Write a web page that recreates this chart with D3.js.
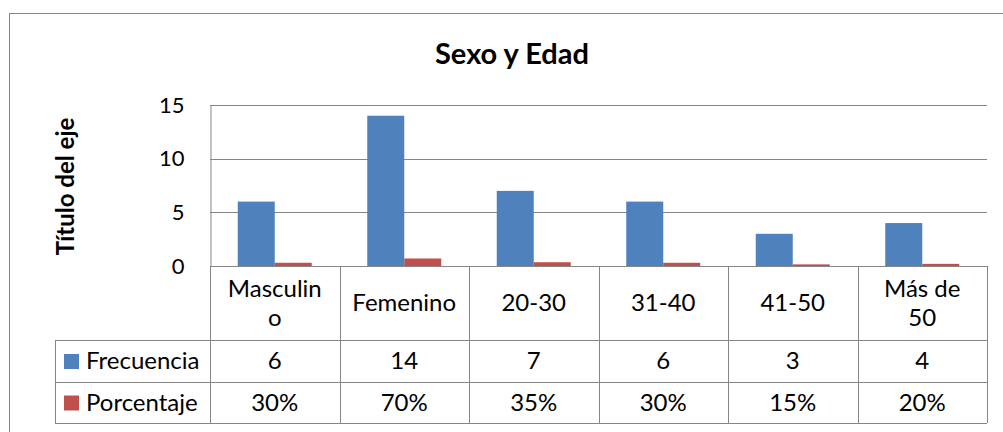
<!DOCTYPE html>
<html>
<head>
<meta charset="utf-8">
<script src="https://cdn.jsdelivr.net/npm/d3@7"></script>
<style>
  body { margin: 0; background: #fff; }
  text { font-family: Lato, "Open Sans", sans-serif; fill: #000; }
</style>
</head>
<body>
<div id="chart"></div>
<script>
// data
const categories = ['Masculino', 'Femenino', '20-30', '31-40', '41-50', 'Más de 50'];
const categoryLabels = [['Masculin', 'o'], ['Femenino'], ['20-30'], ['31-40'], ['41-50'], ['Más de', '50']];
const seriesNames = ['Frecuencia', 'Porcentaje'];
const frecuencia = [6, 14, 7, 6, 3, 4];
const porcentaje = [0.30, 0.70, 0.35, 0.30, 0.15, 0.20];
const porcentajeLabels = ['30%', '70%', '35%', '30%', '15%', '20%'];
const yTicks = [0, 5, 10, 15];
const colours = ['#4F81BD', '#C0504D'];

const width = 1003;
const height = 432;
const grid = '#868686';

const plot = { left: 210, right: 987, top: 105, bottom: 266 };
const rows = [266, 340, 382, 423];
const tableLeft = 55;

const svg = d3.select('#chart').append('svg')
  .attr('width', width)
  .attr('height', height)
  .style('display', 'block');

// outer chart border (right and bottom run off the picture)
svg.append('rect')
  .attr('x', 9.5).attr('y', 13.5)
  .attr('width', width).attr('height', height)
  .attr('fill', '#fff')
  .attr('stroke', grid);

const x = d3.scaleBand()
  .domain(categories)
  .range([plot.left, plot.right]);

const xs = d3.scaleBand()
  .domain(seriesNames)
  .range([0, x.bandwidth()])
  .paddingOuter(0.75);

const y = d3.scaleLinear()
  .domain([0, 15])
  .range([plot.bottom, plot.top]);

// gridlines
svg.append('g').selectAll('line')
  .data(yTicks)
  .enter().append('line')
  .attr('x1', plot.left).attr('x2', plot.right)
  .attr('y1', d => Math.round(y(d)) + 0.5)
  .attr('y2', d => Math.round(y(d)) + 0.5)
  .attr('stroke', grid);

// y axis
const yAxis = svg.append('g')
  .attr('transform', `translate(${plot.left + 0.5},0)`)
  .call(d3.axisLeft(y).tickValues(yTicks).tickSize(0).tickPadding(26));
yAxis.select('.domain').attr('stroke', grid);
yAxis.selectAll('text')
  .style('font-family', 'Lato, sans-serif')
  .style('font-size', '22px')
  .attr('fill', '#000');

// bars
const series = [frecuencia, porcentaje];
series.forEach((vals, si) => {
  svg.append('g').selectAll('rect')
    .data(vals)
    .enter().append('rect')
    .attr('x', (d, i) => x(categories[i]) + xs(seriesNames[si]))
    .attr('width', xs.bandwidth())
    .attr('y', d => y(d))
    .attr('height', d => y(0) - y(d))
    .attr('fill', colours[si]);
});

// data table lines
const table = svg.append('g').attr('stroke', grid).attr('fill', 'none');
table.append('line')
  .attr('x1', plot.left).attr('x2', plot.right)
  .attr('y1', rows[0] + 0.5).attr('y2', rows[0] + 0.5);
rows.slice(1).forEach(r => {
  table.append('line')
    .attr('x1', tableLeft).attr('x2', plot.right)
    .attr('y1', r + 0.5).attr('y2', r + 0.5);
});
const colEdges = categories.map(c => x(c)).concat([plot.right]);
colEdges.forEach(cx => {
  table.append('line')
    .attr('x1', Math.round(cx) + 0.5).attr('x2', Math.round(cx) + 0.5)
    .attr('y1', rows[0]).attr('y2', rows[3]);
});
table.append('line')
  .attr('x1', tableLeft + 0.5).attr('x2', tableLeft + 0.5)
  .attr('y1', rows[1]).attr('y2', rows[3]);

const fs = 24;
const tableText = svg.append('g')
  .style('font-size', fs + 'px')
  .attr('text-anchor', 'middle');

// category header row
categoryLabels.forEach((lines, i) => {
  const cx = x(categories[i]) + x.bandwidth() / 2;
  const mid = (rows[0] + rows[1]) / 2;
  const lh = 29;
  const t = tableText.append('text')
    .attr('x', cx)
    .attr('y', mid - (lines.length - 1) * lh / 2);
  lines.forEach((ln, j) => {
    t.append('tspan')
      .attr('x', cx)
      .attr('dy', j === 0 ? '0.35em' : lh)
      .text(ln);
  });
});

// value rows
const rowValues = [frecuencia.map(String), porcentajeLabels];
rowValues.forEach((vals, si) => {
  const mid = (rows[si + 1] + rows[si + 2]) / 2;
  tableText.selectAll(null)
    .data(vals)
    .enter().append('text')
    .attr('x', (d, i) => x(categories[i]) + x.bandwidth() / 2)
    .attr('y', mid)
    .attr('dy', '0.35em')
    .text(d => d);

  // legend key + series name
  svg.append('rect')
    .attr('x', 64).attr('y', mid - 7)
    .attr('width', 15).attr('height', 15)
    .attr('fill', colours[si]);
  svg.append('text')
    .attr('x', 86).attr('y', mid)
    .attr('dy', '0.35em')
    .style('font-size', fs + 'px')
    .text(seriesNames[si]);
});

// title
svg.append('text')
  .attr('x', 512).attr('y', 64)
  .attr('text-anchor', 'middle')
  .style('font-size', '29px')
  .style('font-weight', 'bold')
  .text('Sexo y Edad');

// y axis title
svg.append('text')
  .attr('transform', `translate(74,${(plot.top + plot.bottom) / 2 + 1}) rotate(-90)`)
  .attr('text-anchor', 'middle')
  .style('font-size', '24px')
  .style('font-weight', 'bold')
  .text('Título del eje');
</script>
</body>
</html>
